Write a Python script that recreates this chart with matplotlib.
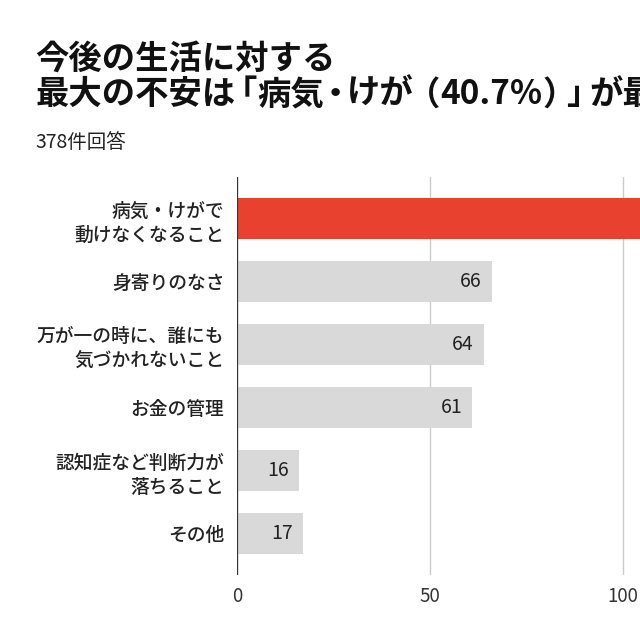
import matplotlib
matplotlib.use("Agg")
import matplotlib.pyplot as plt

plt.rcParams['font.family'] = ['Noto Sans CJK JP', 'DejaVu Sans']

categories = ["病気・けがで\n動けなくなること", "身寄りのなさ",
              "万が一の時に、誰にも\n気づかれないこと", "お金の管理",
              "認知症など判断力が\n落ちること", "その他"]
values = [154, 66, 64, 61, 16, 17]
bar_colors = ["#E8412F", "#D9D9D9", "#D9D9D9", "#D9D9D9", "#D9D9D9", "#D9D9D9"]
xticks = [0, 50, 100, 150]
title1 = "今後の生活に対する"
# second title line, split so the brackets can be set a bit tighter
title2_parts = ["最大の不安は", "「", "病気", "・", "けが", "（", "40.7%",
                "）", "」", "が最多"]
# blank space (in em) trimmed left / right of full-width punctuation
trim = {"「": (0.35, 0.0), "（": (0.2, 0.0), "）": (0.0, 0.3),
        "」": (0.0, 0.3), "・": (0.15, 0.15)}

fig = plt.figure(figsize=(6.4, 6.4), dpi=100)
fig.patch.set_facecolor('white')
renderer = fig.canvas.get_renderer()
fig_w = fig.get_figwidth() * fig.dpi
title_size = 24
em = title_size * fig.dpi / 72

fig.text(0.055, 0.908, title1, fontsize=title_size, fontweight='bold',
         color='#111111', va='center', ha='left')

x = 0.055 * fig_w
for part in title2_parts:
    tl, tr = trim.get(part, (0.0, 0.0))
    x -= tl * em
    t = fig.text(x / fig_w, 0.852, part, fontsize=title_size, fontweight='bold',
                 color='#111111', va='center', ha='left')
    bb = t.get_window_extent(renderer)
    x = bb.x1 - tr * em

fig.text(0.055, 0.778, "378件回答", fontsize=14, color='#222222',
         va='center', ha='left')

# axes run past the right edge of the figure, as in the cropped reference
ax = fig.add_axes([0.3703, 0.1016, 1.025, 0.622])
y = list(range(len(categories)))
ax.barh(y, values, height=0.65, color=bar_colors, zorder=2)

for yi, v in zip(y, values):
    ax.text(v - 2.6, yi, str(v), ha='right', va='center', fontsize=14,
            color='#222222', zorder=3)

ax.set_xlim(0, 170)
ax.set_ylim(5.66, -0.66)
ax.set_yticks(y)
ax.set_yticklabels(categories, fontsize=13.5, fontweight='medium',
                   color='#222222', linespacing=1.35)
ax.set_xticks(xticks)
ax.set_xticklabels([str(t) for t in xticks], fontsize=13.5, color='#333333')
ax.tick_params(axis='both', length=0)
ax.tick_params(axis='x', pad=8)
ax.tick_params(axis='y', pad=9)

for s in ax.spines.values():
    s.set_visible(False)
ax.grid(axis='x', color='#CCCCCC', linewidth=1, zorder=0)
ax.axvline(0, color='#333333', linewidth=1.6, zorder=4)

fig.savefig("out.png", dpi=100)
